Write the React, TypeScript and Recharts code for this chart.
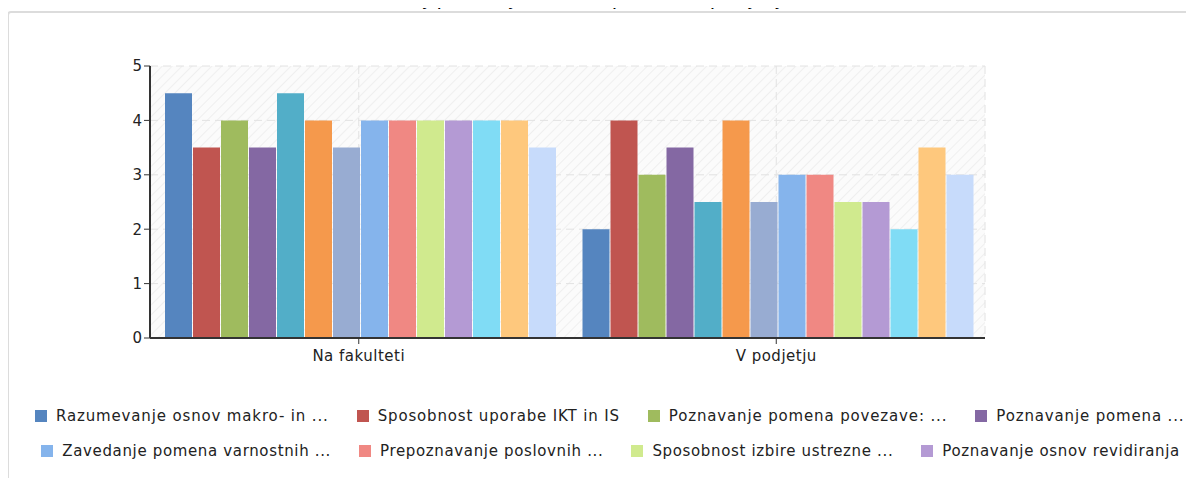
import { BarChart, Bar, XAxis, YAxis, CartesianGrid, Legend } from "recharts";

const categories = ["Na fakulteti", "V podjetju"];

const seriesNames = [
  "Razumevanje osnov makro- in ...",
  "Sposobnost uporabe IKT in IS",
  "Poznavanje pomena povezave: ...",
  "Poznavanje pomena ...",
  "Kompetenca 5",
  "Kompetenca 6",
  "Kompetenca 7",
  "Zavedanje pomena varnostnih ...",
  "Prepoznavanje poslovnih ...",
  "Sposobnost izbire ustrezne ...",
  "Poznavanje osnov revidiranja ...",
  "Kompetenca 12",
  "Kompetenca 13",
  "Kompetenca 14",
];

const seriesColors = [
  "#5585BF",
  "#C05550",
  "#9FBB5E",
  "#8468A3",
  "#52AEC8",
  "#F5994C",
  "#98ACD2",
  "#85B4EC",
  "#F08883",
  "#D0EA8E",
  "#B49AD4",
  "#80DCF5",
  "#FEC87D",
  "#C7DBFB",
];

const naFakulteti = [4.5, 3.5, 4, 3.5, 4.5, 4, 3.5, 4, 4, 4, 4, 4, 4, 3.5];
const vPodjetju = [2, 4, 3, 3.5, 2.5, 4, 2.5, 3, 3, 2.5, 2.5, 2, 3.5, 3];

const yTicks = [0, 1, 2, 3, 4, 5];

// which legend entries are visible in the (scrolled) legend
const legendRow1 = [0, 1, 2, 3];
const legendRow2 = [7, 8, 9, 10];

const chartTitle = "Razvoj pridobljenih kompetenc v podjetju";

const data = categories.map((name, i) => {
  const row: Record<string, string | number> = { name };
  const vals = i === 0 ? naFakulteti : vPodjetju;
  seriesNames.forEach((_, s) => {
    row["s" + s] = vals[s];
  });
  return row;
});

const FONT = "'DejaVu Sans', Verdana, sans-serif";

function LegendItem({ idx }: { idx: number }) {
  return (
    <span style={{ display: "inline-flex", alignItems: "center", marginRight: 28 }}>
      <span
        style={{
          display: "inline-block",
          width: 12,
          height: 12,
          background: seriesColors[idx],
          marginRight: 9,
        }}
      />
      <span>{seriesNames[idx]}</span>
    </span>
  );
}

function ChartLegend() {
  return (
    <div
      style={{
        fontFamily: FONT,
        fontSize: 15,
        color: "#222",
        whiteSpace: "nowrap",
      }}
    >
      <div
        style={{
          paddingLeft: 35,
          height: 35,
          display: "flex",
          alignItems: "center",
          letterSpacing: 0.85,
        }}
      >
        {legendRow1.map((i) => (
          <LegendItem key={i} idx={i} />
        ))}
      </div>
      <div
        style={{
          marginLeft: -8,
          height: 35,
          display: "flex",
          alignItems: "center",
          letterSpacing: 0.65,
        }}
      >
        <span style={{ marginRight: 33 }}>...</span>
        {legendRow2.map((i) => (
          <LegendItem key={i} idx={i} />
        ))}
      </div>
    </div>
  );
}

export default function App() {
  return (
    <div
      style={{
        position: "relative",
        width: 1194,
        height: 478,
        margin: "-8px 0 0 -8px",
        overflow: "hidden",
        background: "#fff",
      }}
    >
      <div
        style={{
          position: "absolute",
          left: 7,
          top: 11,
          width: 1220,
          height: 520,
          border: "2px solid #dcdcdc",
          borderRadius: 4,
        }}
      />
      <div style={{ position: "absolute", left: 0, top: 0 }}>
        <BarChart
          width={1194}
          height={478}
          data={data}
          margin={{ top: 66, right: 209, left: 100, bottom: 110 }}
          barCategoryGap={15}
          barGap={1}
        >
          <defs>
            <pattern id="hatch" width="7" height="7" patternUnits="userSpaceOnUse" patternTransform="rotate(45)">
              <rect width="7" height="7" fill="#fbfbfb" />
              <line x1="0" y1="0" x2="0" y2="7" stroke="#ececec" strokeWidth="1.5" />
            </pattern>
          </defs>
          <CartesianGrid
            fill="url(#hatch)"
            stroke="#e2e2e2"
            strokeDasharray="8 5"
          />
          <XAxis
            dataKey="name"
            axisLine={{ stroke: "#333", strokeWidth: 2 }}
            tickLine={{ stroke: "#333" }}
            tickSize={6}
            tick={{ fill: "#222", fontSize: 15, fontFamily: FONT, letterSpacing: 0.5, dy: 4 }}
            height={30}
          />
          <XAxis
            xAxisId="top"
            dataKey="name"
            orientation="top"
            axisLine={{ stroke: "#e0e0e0", strokeWidth: 2 }}
            tick={false}
            tickLine={false}
            height={0}
          />
          <YAxis
            domain={[0, 5]}
            ticks={yTicks}
            axisLine={{ stroke: "#333", strokeWidth: 2 }}
            tickLine={{ stroke: "#333" }}
            tickSize={6}
            tick={{ fill: "#222", fontSize: 15, fontFamily: FONT }}
            width={50}
          />
          <YAxis
            yAxisId="right"
            orientation="right"
            domain={[0, 5]}
            axisLine={{ stroke: "#e0e0e0", strokeWidth: 2 }}
            tick={false}
            tickLine={false}
            width={0}
          />
          <Legend
            layout="horizontal"
            verticalAlign="middle"
            align="center"
            wrapperStyle={{ position: "absolute", left: 0, top: 398, width: 1194, height: 72 }}
            content={() => <ChartLegend />}
          />
          {seriesNames.map((n, s) => (
            <Bar
              key={s}
              dataKey={"s" + s}
              name={n}
              fill={seriesColors[s]}
              isAnimationActive={false}
            />
          ))}
        </BarChart>
      </div>
      <div
        style={{
          position: "absolute",
          left: 0,
          top: -13,
          width: 1156,
          zIndex: 5,
          textAlign: "center",
          fontFamily: FONT,
          fontSize: 20,
          lineHeight: "22px",
          letterSpacing: 0.5,
          color: "#000",
          whiteSpace: "nowrap",
        }}
      >
        {chartTitle}
      </div>
    </div>
  );
}
